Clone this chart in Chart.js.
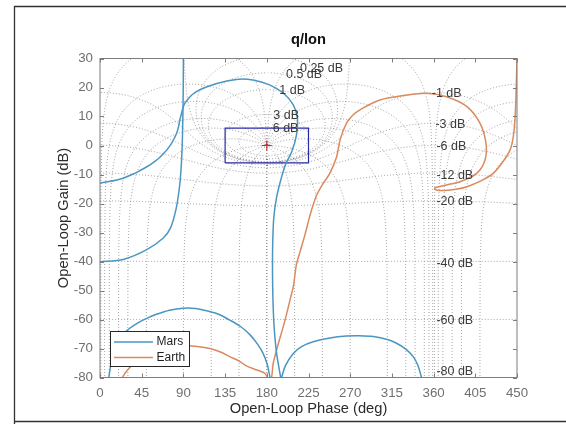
<!DOCTYPE html>
<html>
<head>
<meta charset="utf-8">
<script src="https://cdn.jsdelivr.net/npm/chart.js@4.4.1/dist/chart.umd.min.js"></script>
<style>
  html, body { margin: 0; padding: 0; background: #fff; }
  #wrap { width: 566px; height: 424px; }
</style>
</head>
<body>
<div id="wrap"><canvas id="nichols" width="566" height="424"></canvas></div>
<script>
// axis ticks
const phaseTicks = [0, 45, 90, 135, 180, 225, 270, 315, 360, 405, 450];
const gainTicks = [-80, -70, -60, -50, -40, -30, -20, -10, 0, 10, 20, 30];

// Mars: the trace leaves the axes several times, so it is kept in pieces
const marsPhase1 = [0, 25, 54, 72, 82.7, 87, 91.7, 104, 126, 147, 165, 183, 198, 208.6, 213, 212, 207, 200, 195, 190.5, 187.5, 186.3, 186.2, 186.8, 188, 190.5, 195];
const marsGain1 = [-13, -11.3, -6.7, -1.6, 4.2, 9.9, 14.6, 18.6, 21.4, 22.8, 22.6, 20.9, 18, 14, 9.4, 3.6, -2.1, -6.7, -12, -18, -25, -35, -45, -55, -63, -71.5, -80];
const marsPhase2 = [0, 25, 50, 68, 76, 82, 85.5, 87.5, 88.7, 89.3, 89.7, 89.9, 90];
const marsGain2 = [-40.1, -39.3, -36, -32, -28.5, -22, -15, -8, 0, 8, 16, 24, 30.5];
const marsPhase3 = [9.5, 11.5, 15, 20, 28.8, 40, 50.4, 61, 75, 90, 103, 115, 128, 140, 152, 162, 170, 176, 180.5, 183.5];
const marsGain3 = [-80, -76, -71.5, -67.5, -63.9, -61.3, -59.6, -58.2, -56.8, -56.1, -56.2, -57, -58.2, -60.2, -62.5, -65.3, -68.5, -71.7, -75.5, -80];
const marsPhase4 = [196, 200, 208.6, 218, 230, 248, 266, 280, 295, 310, 320, 330, 338, 343, 347];
const marsGain4 = [-80, -76, -71.7, -69.3, -67.7, -66.4, -65.7, -65.6, -65.9, -66.9, -68.2, -70.2, -72.8, -75.8, -80];

// Earth
const earthPhase = [24, 29, 34.2, 45, 60, 75, 93.5, 105, 118.7, 130, 140, 150, 158, 170, 178, 184, 187, 191, 195, 199, 203, 206, 208.6, 212, 216, 221, 225, 229, 234, 241, 248, 255.4, 259, 266, 273, 281, 302, 331, 352, 374, 396, 410, 416.5, 415.5, 406.5, 388.5, 374, 363, 361, 364, 372, 384, 396, 411, 424.4, 435, 442.4, 446, 448, 449, 449.7, 450];
const earthGain = [-80, -77.7, -75.9, -73.2, -71, -69.8, -69.1, -69.3, -70, -71.2, -72.8, -74.3, -76, -77.5, -78.6, -81.5, -75, -70, -65.5, -61, -56, -52, -48.7, -41, -36.5, -31, -26, -21.5, -17, -13, -9.6, -3.9, 1.9, 7.7, 10.5, 12.4, 15.7, 17.4, 18, 16.8, 13.4, 7.7, 0.8, -5, -9.6, -12.5, -13.6, -14.4, -14.9, -15.4, -15.5, -15.1, -14.2, -12.2, -9.6, -5.5, -1.6, 3, 9.9, 18, 26, 31];

// gain/phase margin box and the critical point
const boxPhase = [135, 225];
const boxGain = [-6, 6];
const criticalPoint = [180, 0];

// Nichols grid: closed-loop gains (dB) and closed-loop phases (deg)
const gridGainDb = [6, 3, 1, 0.5, 0.25, 0, -1, -3, -6, -12, -20, -40, -60, -80];
const gridPhaseDeg = [1, 5, 10, 20, 30, 50, 90, 120, 150, 180];
const gridShift = [0, 360];

const gridLabelText = ['0.25 dB', '0.5 dB', '1 dB', '3 dB', '6 dB', '-1 dB', '-3 dB', '-6 dB', '-12 dB', '-20 dB', '-40 dB', '-60 dB', '-80 dB'];
const gridLabelPhase = [215.8, 200.7, 193.5, 187, 186.4, 358, 362, 363, 363, 363, 363, 363, 363];
const gridLabelGain = [26.6, 24.3, 19.1, 10.3, 5.9, 18, 7.1, -0.4, -10.2, -19.4, -40.6, -60.5, -78];

const marsColor = '#4a96c2';
const earthColor = '#da8a5e';
const FONT = '"Liberation Sans", Arial, Helvetica, sans-serif';

function zip(xs, ys) {
  return xs.map((x, i) => ({ x: x, y: ys[i] }));
}

// open loop L = T / (1 - T) for a closed loop T = m*e^(j*th)
function openLoop(m, th, shift) {
  const tr = m * Math.cos(th), ti = m * Math.sin(th);
  const dr = 1 - tr, di = -ti;
  const d2 = dr * dr + di * di;
  const re = (tr * dr + ti * di) / d2;
  const im = (ti * dr - tr * di) / d2;
  let ph = Math.atan2(im, re) * 180 / Math.PI;
  if (ph < 0) ph += 360;
  return { x: ph + shift, y: 20 * Math.log10(Math.hypot(re, im)) };
}

function gridLine(points) {
  return {
    data: points,
    showLine: true,
    pointRadius: 0,
    borderColor: 'rgba(90,90,90,0.55)',
    borderWidth: 1,
    borderDash: [1, 2],
    tension: 0
  };
}

const gridSets = [];
gridShift.forEach(shift => {
  // constant closed-loop gain
  gridGainDb.forEach(db => {
    const m = Math.pow(10, db / 20);
    const pts = [];
    for (let t = 0.1; t < 360; t += 0.2) {
      const p = openLoop(m, t * Math.PI / 180, shift);
      if (p.y > -95) pts.push(p);
    }
    gridSets.push(gridLine(pts));
  });
  // constant closed-loop phase, both signs
  const steps = [];
  for (let s = -95; s < -3; s += 0.5) steps.push(s);
  for (let s = -3; s < 3; s += 0.01) steps.push(s);
  for (let s = 3; s <= 60; s += 0.5) steps.push(s);
  gridPhaseDeg.forEach(deg => {
    const pts = steps.map(s => openLoop(Math.pow(10, s / 20), deg * Math.PI / 180, 0));
    gridSets.push(gridLine(pts.map(p => ({ x: p.x + shift, y: p.y }))));
    gridSets.push(gridLine(pts.map(p => ({ x: 360 - p.x + shift, y: p.y }))));
  });
});

function curve(xs, ys, color) {
  return {
    data: zip(xs, ys),
    showLine: true,
    pointRadius: 0,
    borderColor: color,
    borderWidth: 1.5,
    tension: 0.3
  };
}

const boxPoints = [
  { x: boxPhase[0], y: boxGain[0] }, { x: boxPhase[1], y: boxGain[0] },
  { x: boxPhase[1], y: boxGain[1] }, { x: boxPhase[0], y: boxGain[1] },
  { x: boxPhase[0], y: boxGain[0] }
];

// first dataset is painted last, so data goes before the grid
const datasets = [
  {
    data: [{ x: criticalPoint[0], y: criticalPoint[1] }],
    pointStyle: 'cross', pointRadius: 5, borderColor: '#d02828', borderWidth: 1.2
  },
  curve(marsPhase1, marsGain1, marsColor),
  curve(marsPhase2, marsGain2, marsColor),
  curve(marsPhase3, marsGain3, marsColor),
  curve(marsPhase4, marsGain4, marsColor),
  curve(earthPhase, earthGain, earthColor),
  { data: boxPoints, showLine: true, pointRadius: 0, borderColor: '#2a2aa8', borderWidth: 1.2, tension: 0 }
].concat(gridSets);

const decor = {
  id: 'decor',
  beforeDraw(chart) {
    const c = chart.ctx;
    c.save();
    c.fillStyle = '#fff';
    c.fillRect(0, 0, chart.width, chart.height);
    c.strokeStyle = '#333';
    c.lineWidth = 1.3;
    c.beginPath();
    c.moveTo(14.5, 424); c.lineTo(14.5, 6.5); c.lineTo(566, 6.5);
    c.moveTo(14.5, 421.5); c.lineTo(566, 421.5);
    c.stroke();
    c.restore();
  },
  afterDatasetsDraw(chart) {
    const c = chart.ctx, a = chart.chartArea;
    const xs = chart.scales.x, ys = chart.scales.y;
    c.save();
    // grid labels
    c.font = '12.5px ' + FONT;
    c.fillStyle = '#3a3a3a';
    c.textAlign = 'left';
    c.textBaseline = 'middle';
    gridLabelText.forEach((t, i) => {
      c.fillText(t, xs.getPixelForValue(gridLabelPhase[i]), ys.getPixelForValue(gridLabelGain[i]));
    });
    // axes box and inward ticks
    c.strokeStyle = '#7d7d7d';
    c.lineWidth = 1;
    c.strokeRect(a.left, a.top, a.right - a.left, a.bottom - a.top);
    c.beginPath();
    phaseTicks.forEach(v => {
      const x = Math.round(xs.getPixelForValue(v)) + 0.5;
      c.moveTo(x, a.bottom); c.lineTo(x, a.bottom - 4);
      c.moveTo(x, a.top); c.lineTo(x, a.top + 4);
    });
    gainTicks.forEach(v => {
      const y = Math.round(ys.getPixelForValue(v)) + 0.5;
      c.moveTo(a.left, y); c.lineTo(a.left + 4, y);
      c.moveTo(a.right, y); c.lineTo(a.right - 4, y);
    });
    c.stroke();
    // legend
    const lx = 110.5, ly = 331.5, lw = 79, lh = 35;
    c.fillStyle = '#fff';
    c.fillRect(lx, ly, lw, lh);
    c.strokeStyle = '#262626';
    c.strokeRect(lx, ly, lw, lh);
    c.lineWidth = 1.5;
    [['Mars', marsColor, 342], ['Earth', earthColor, 357.5]].forEach(([name, col, y]) => {
      c.strokeStyle = col;
      c.beginPath(); c.moveTo(114, y); c.lineTo(153, y); c.stroke();
      c.fillStyle = '#1e1e1e';
      c.font = '12px ' + FONT;
      c.fillText(name, 156.5, y);
    });
    c.restore();
  },
  afterDraw(chart) {
    const c = chart.ctx, a = chart.chartArea;
    const cx = (a.left + a.right) / 2, cy = (a.top + a.bottom) / 2;
    c.save();
    c.textAlign = 'center';
    c.textBaseline = 'middle';
    c.fillStyle = '#111';
    c.font = 'bold 14.7px ' + FONT;
    c.fillText('q/lon', cx, 40);
    c.fillStyle = '#2b2b2b';
    c.font = '14.7px ' + FONT;
    c.fillText('Open-Loop Phase (deg)', cx, 409);
    c.translate(64, cy);
    c.rotate(-Math.PI / 2);
    c.fillText('Open-Loop Gain (dB)', 0, 0);
    c.restore();
  }
};

new Chart(document.getElementById('nichols'), {
  type: 'scatter',
  data: { datasets: datasets },
  options: {
    responsive: false,
    animation: false,
    events: [],
    layout: { padding: { left: 0, right: 49, top: 58.5, bottom: 0 } },
    plugins: { legend: { display: false }, tooltip: { enabled: false }, title: { display: false } },
    scales: {
      x: {
        type: 'linear', min: 0, max: 450,
        afterBuildTicks: s => { s.ticks = phaseTicks.map(v => ({ value: v })); },
        afterFit: s => { s.height = 46.5; },
        grid: { display: false, drawTicks: false },
        border: { display: false },
        ticks: { color: '#707070', font: { family: FONT, size: 13.3 }, padding: 7.5, maxRotation: 0 }
      },
      y: {
        type: 'linear', min: -80, max: 30,
        afterBuildTicks: s => { s.ticks = gainTicks.map(v => ({ value: v })); },
        afterFit: s => { s.width = 100; },
        grid: { display: false, drawTicks: false },
        border: { display: false },
        ticks: { color: '#707070', font: { family: FONT, size: 13.3 }, padding: 7 }
      }
    }
  },
  plugins: [decor]
});
</script>
</body>
</html>
